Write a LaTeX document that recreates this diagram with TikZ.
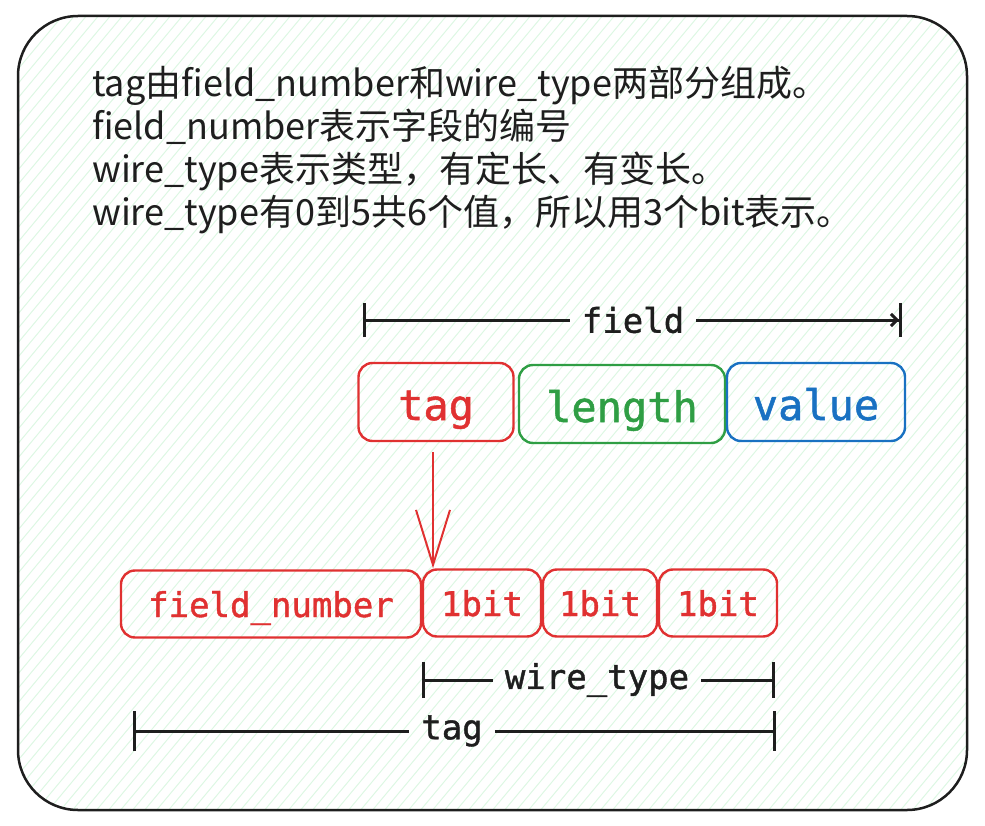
\documentclass[tikz,border=0pt]{standalone}
\usepackage{fontspec}
\newfontfamily\cjk{Noto Sans CJK SC}
\newfontfamily\mono[FakeBold=1.2]{DejaVu Sans Mono}
\usetikzlibrary{arrows.meta}
\definecolor{exred}{HTML}{E03131}
\definecolor{exgreen}{HTML}{2F9E44}
\definecolor{exblue}{HTML}{1971C2}
\definecolor{exink}{HTML}{1E1E1E}
\definecolor{hatchgreen}{HTML}{DDF7E3}

\begin{document}
\begin{tikzpicture}[x=1pt,y=-1pt,
    cell/.style={draw,rounded corners=14pt,line width=2.4pt,inner sep=0pt,
      minimum height=67pt,text height=34pt,text depth=8pt,
      font=\mono\fontsize{34}{40}\selectfont},
    bigcell/.style={cell,minimum height=78pt,text height=46pt,text depth=10pt,
      font=\mono\fontsize{42}{48}\selectfont},
    dim/.style={exink,line width=3pt},
    dimlabel/.style={text=exink,inner ysep=0pt,inner xsep=12pt,
      font=\mono\fontsize{34}{40}\selectfont},
    note/.style={anchor=base west,inner sep=0pt,text=exink,
      font=\cjk\fontsize{36}{43}\selectfont}]
\useasboundingbox (0,0) rectangle (985,826);

% backdrop
\begin{scope}
  \clip[rounded corners=60pt] (18,16) rectangle (967,810);
  \foreach \i in {-700,-688,...,1000}
    \draw[hatchgreen,line width=1pt] (\i,830) -- ++(700,-840);
\end{scope}
\draw[exink,line width=2.5pt,rounded corners=60pt] (18,16) rectangle (967,810);

% notes
\node[note] (l1) at (92,97) {tag由field\_number和wire\_type两部分组成。};
\node[note] (l2) at (92,140) {field\_number表示字段的编号};
\node[note] (l3) at (92,183) {wire\_type表示类型，有定长、有变长。};
\node[note] (l4) at (92,226) {wire\_type有0到5共6个值，所以用3个bit表示。};

% field
\node[bigcell,exred,minimum width=155pt] (tag) at (436,402) {tag};
\node[bigcell,exgreen,minimum width=206pt] (length) at (622,404) {length};
\node[bigcell,exblue,minimum width=178pt] (value) at (816,402) {value};

\coordinate (fieldL) at (363,320);
\coordinate (fieldR) at (902,320);
\node[dimlabel] (fieldlbl) at (633,320) {field};
\draw[dim,{Bar[width=34pt]}-] (fieldL) -- (fieldlbl.west);
\draw[dim,-{Straight Barb[length=6pt,width=12pt]Bar[width=34pt]}] (fieldlbl.east) -- (fieldR);

% tag bits
\node[cell,exred,minimum width=300pt] (fnum) at (271,604) {field\_number};
\node[cell,exred,minimum width=118pt] (bit1) at (482,603) {1bit};
\node[cell,exred,minimum width=114pt] (bit2) at (600,603) {1bit};
\node[cell,exred,minimum width=118pt] (bit3) at (718,603) {1bit};

\draw[exred,line width=2pt,-{Straight Barb[length=55pt,width=34pt]}]
  ([xshift=-3pt,yshift=-10pt]tag.south) -- ([xshift=-3pt]tag.south |- bit1.north);

\coordinate (wireL) at (422,680);
\coordinate (wireR) at (775,680);
\node[dimlabel] (wirelbl) at (597,680) {wire\_type};
\draw[dim,{Bar[width=36pt]}-] (wireL) -- (wirelbl.west);
\draw[dim,-{Bar[width=36pt]}] (wirelbl.east) -- (wireR);

\coordinate (tagL) at (133,731);
\coordinate (tagR) at (776,731);
\node[dimlabel] (taglbl) at (452,731) {tag};
\draw[dim,{Bar[width=40pt]}-] (tagL) -- (taglbl.west);
\draw[dim,-{Bar[width=40pt]}] (taglbl.east) -- (tagR);
\end{tikzpicture}
\end{document}
